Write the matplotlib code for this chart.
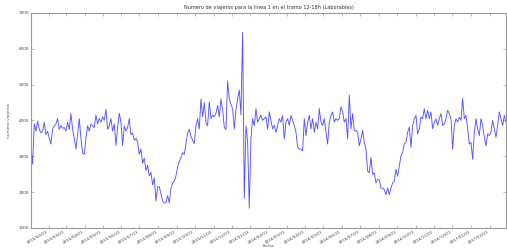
import matplotlib
matplotlib.use('Agg')
from matplotlib import pyplot as plt
import matplotlib.dates as mdates
import numpy as np
import pandas as pd
#
# daily ridership (laborables, 12-18h)
# ---------------------------------------------------------
#
start_date = '2015-01-02'
end_date = '2017-02-28'

viajeros_2015 = [3250, 2780, 3900, 3700, 3980, 3750, 3650, 3700, 3950, 3600,
                 3700, 3500, 3340, 3750, 3850, 3900, 4050, 3750, 3850, 3780,
                 3800, 3700, 3950, 3750, 4190, 3750, 3500, 3200, 3600, 4050,
                 3500, 3100, 3050, 3500, 3850, 3700, 3900, 3850, 3800, 4150,
                 3900, 4050, 3950, 4100, 4000, 4310, 3750, 3850, 4050, 3700,
                 3900, 3300, 3800, 4200, 3950, 3300, 3850, 3700, 3800, 4050,
                 3600, 3650, 3450, 3500, 3400, 3050, 3200, 2800, 2950, 2600,
                 2750, 2450, 2550, 2200, 2400, 1750, 2150, 2150, 1950, 1750,
                 1700, 1700, 1900, 1700, 2100, 2250, 2300, 2450, 2700, 2850,
                 2950, 3100, 3050, 3350, 3650, 3750]

viajeros_2016a = [3550, 3450, 3350, 3850, 4050, 3760, 4600, 4100, 4500, 3950,
                  3850, 4520, 4050, 4150, 4100, 4200, 4420, 4100, 4600, 4300,
                  3800, 3750, 5100, 4600, 4450, 4330, 3760, 4300, 4600, 4850,
                  4150, 6450, 1830, 3850, 3400, 1550, 3500, 4050, 3850, 4330,
                  3950, 4050, 4150, 4000, 4050, 4100, 3760, 4240, 4000, 3760,
                  3860, 3670, 3860, 4050, 3950, 4140, 3480, 3950, 4050, 3860,
                  4140, 4000, 3860, 3670, 3250, 3200, 3200, 3150, 4050, 3570,
                  3950, 4140, 3760, 4050, 3670, 3950, 3760, 4330, 3950, 3860,
                  4050, 3670, 3340, 3950, 4140, 4240, 3950, 4050, 4000, 4050,
                  4380, 4240, 3950, 4050, 3480]

viajeros_2016b = [4707, 3764, 4189, 3717, 3717, 3670, 3293, 3481, 3717, 3387,
                  3198, 2585, 2538, 2963, 2491, 2538, 2255, 2350, 2350, 2114,
                  2114, 2067, 1925, 2114, 1925, 2114, 2255, 2303, 2633, 2444,
                  2727, 3010, 3104, 3340, 3387, 3670, 3811, 3246, 3858, 4047,
                  4141, 3623, 3764, 4094, 4047, 4330, 4047, 4283, 4047, 4236,
                  3764, 3953, 4047, 3858, 4047, 4189, 3858, 3906, 4047, 4283,
                  4189, 4047, 3198, 3858, 4047, 3953, 4094, 4000, 4613, 4047,
                  4141, 3764, 3340, 3387, 2915, 3670, 4047, 3764, 3576, 4047,
                  3858, 3528, 3293, 3623, 3576, 3670, 4000, 3764, 3528, 3858,
                  4236, 4047, 3858, 4141, 3953]
#
# put the pieces together and spread them over the date range
# -----------------------------------------------------------
#
viajeros = viajeros_2015 + viajeros_2016a + viajeros_2016b
fechas = pd.date_range(start_date, end_date, periods=len(viajeros))

fig = plt.figure(figsize=(5.07, 2.48), dpi=100)
ax = fig.add_axes([0.061, 0.081, 0.937, 0.867])

ax.plot(fechas, viajeros, color='#2a2aff', lw=0.65, alpha=0.8)

ax.set_xlim(fechas[0], fechas[-1])
ax.set_ylim(1000, 7000)
ax.set_yticks(np.arange(1000, 7001, 1000))

ax.xaxis.set_major_locator(mdates.MonthLocator())
ax.xaxis.set_major_formatter(mdates.DateFormatter('%Y/%m/%d'))
for lab in ax.get_xticklabels():
    lab.set_rotation(30)
    lab.set_ha('right')

ax.tick_params(direction='in', top=True, right=True, length=2, width=0.4,
               colors='#888888', labelsize=3, labelcolor='#444444', pad=1.5)
for s in ax.spines.values():
    s.set_color('#999999')
    s.set_linewidth(0.8)

ax.set_title('Numero de viajeros para la linea 1 en el tramo 12-18h (Laborables)',
             fontsize=3.6, color='#333333', pad=3)
ax.set_ylabel('numero viajeros', fontsize=3.2, color='#555555', labelpad=5)
ax.set_xlabel('fecha', fontsize=3.0, color='#555555', labelpad=-1)

fig.savefig('out.png', dpi=100)
